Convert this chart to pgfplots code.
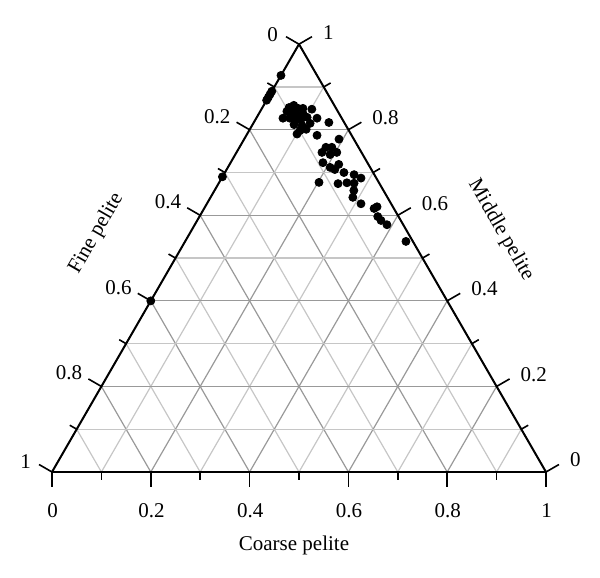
\documentclass[border=0pt]{standalone}
\usepackage{pgfplots}
\pgfplotsset{compat=1.18}
\usepgfplotslibrary{ternary}
\usepackage{pgfplotstable}
\usepackage{fontspec}
\setmainfont{Liberation Serif}
\pgfplotstableread{
f c m
0.073 0 0.927
0.110 0 0.890
0.117 0 0.883
0.124 0 0.876
0.131 0 0.869
0.310 0 0.690
0.600 0 0.400
0.094 0.054 0.852
0.082 0.061 0.857
0.077 0.073 0.850
0.067 0.083 0.850
0.050 0.102 0.848
0.103 0.054 0.843
0.087 0.067 0.846
0.098 0.066 0.836
0.087 0.079 0.834
0.073 0.089 0.838
0.119 0.054 0.827
0.105 0.068 0.827
0.097 0.081 0.822
0.084 0.092 0.824
0.069 0.102 0.829
0.050 0.123 0.827
0.104 0.084 0.812
0.089 0.101 0.810
0.070 0.115 0.815
0.031 0.152 0.817
0.099 0.103 0.798
0.085 0.114 0.801
0.109 0.101 0.790
0.070 0.143 0.787
0.030 0.192 0.778
0.066 0.175 0.759
0.054 0.187 0.759
0.080 0.173 0.747
0.066 0.192 0.742
0.050 0.203 0.747
0.090 0.187 0.723
0.081 0.207 0.712
0.074 0.219 0.707
0.060 0.221 0.719
0.059 0.241 0.700
0.041 0.264 0.695
0.031 0.282 0.687
0.121 0.202 0.677
0.084 0.242 0.674
0.065 0.259 0.676
0.051 0.274 0.675
0.060 0.282 0.658
0.070 0.288 0.642
0.061 0.312 0.627
0.040 0.344 0.616
0.032 0.348 0.620
0.042 0.361 0.597
0.040 0.372 0.588
0.033 0.389 0.578
0.014 0.447 0.539
}\data
\begin{document}
\begin{tikzpicture}[font=\fontsize{10.5}{12}\selectfont]
\useasboundingbox (-26pt,-53pt) rectangle (274pt,236pt);
\begin{ternaryaxis}[
  at={(0,0)}, anchor=south west,
  width=247pt, height=213.9pt, scale only axis,
  xmin=0,xmax=1,ymin=0,ymax=1,zmin=0,zmax=1,
  xtick={0,0.2,0.4,0.6,0.8,1},
  ytick={0,0.2,0.4,0.6,0.8,1},
  ztick={0,0.2,0.4,0.6,0.8,1},
  xticklabels={0,0.2,0.4,0.6,0.8,1},
  yticklabels={0,0.2,0.4,0.6,0.8,1},
  zticklabels={0,0.2,0.4,0.6,0.8,1},
  xticklabel style={xshift=1.5pt, yshift=6pt},
  yticklabel style={xshift=-2pt, yshift=-5.5pt},
  zticklabel style={xshift=3.8pt, yshift=-6pt},
  minor tick num=1,
  grid=both,
  major tick length=7pt, minor tick length=4pt,
  tick align=outside,
  tick style={draw=none},
  axis line style={black, line width=1pt},
  major grid style={gray!80, line width=0.6pt},
  minor grid style={gray!45, line width=0.6pt},
  /pgf/number format/assume math mode=true,
  clip=false,
]
\addplot3[only marks, mark=*, mark size=2pt, black] table[x=m,y=f,z=c]{\data};
\pgfplotsinvokeforeach{0,0.2,0.4,0.6,0.8,1}{
  \draw[black, line width=0.8pt] (axis cs:1-#1,#1,0) -- ++(150:7.5pt);
  \draw[black, line width=0.8pt] (axis cs:#1,0,1-#1) -- ++(30:7.5pt);
  \draw[black, line width=0.8pt] (axis cs:0,1-#1,#1) -- ++(270:7.5pt);
}
\pgfplotsinvokeforeach{0.1,0.3,0.5,0.7,0.9}{
  \draw[black, line width=0.8pt] (axis cs:1-#1,#1,0) -- ++(150:4pt);
  \draw[black, line width=0.8pt] (axis cs:#1,0,1-#1) -- ++(30:4pt);
  \draw[black, line width=0.8pt] (axis cs:0,1-#1,#1) -- ++(270:4pt);
}
\end{ternaryaxis}
\node[rotate=60] at (22.2pt,119.4pt) {Fine pelite};
\node[rotate=-60] at (224.4pt,121pt) {Middle pelite};
\node at (121pt,-36.5pt) {Coarse pelite};
\end{tikzpicture}
\end{document}
